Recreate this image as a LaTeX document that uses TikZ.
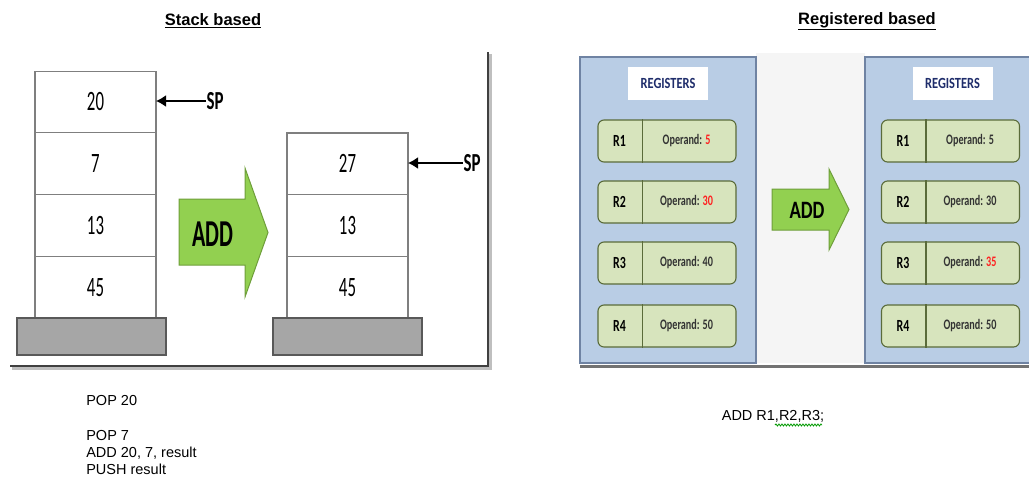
\documentclass[tikz,border=0pt]{standalone}
\usepackage{fontspec}
\setmainfont{Liberation Sans}
\newfontfamily\calib{Carlito}
\usepackage{graphicx}
\usetikzlibrary{arrows.meta, positioning, decorations.pathmorphing}

\definecolor{stackline}{HTML}{7F7F7F}
\definecolor{basegray}{HTML}{A6A6A6}
\definecolor{addgreen}{HTML}{92D050}
\definecolor{addedge}{HTML}{6E9E3A}
\definecolor{panelblue}{HTML}{B9CDE5}
\definecolor{paneledge}{HTML}{6F83A3}
\definecolor{regfill}{HTML}{D7E4BD}
\definecolor{regedge}{HTML}{5A6B3A}
\definecolor{regtext}{HTML}{1F2D6B}
\definecolor{hot}{HTML}{FF2020}

\newcommand{\cond}[2][0.6]{\scalebox{#1}[1]{#2}}

\begin{document}
\begin{tikzpicture}[
            x = 1pt, y = -1pt, % pixel grid, y grows down
            > = {Latex[length = 10pt, width = 12pt]}, % arrow head style
            node distance = 0pt, % stack cells touch
            semithick % line style
        ]

        \tikzstyle{stackcell}=[
            draw = stackline,
            line width = 1.2pt,
            fill = white,
            minimum width = 121pt,
            minimum height = 61.75pt,
            inner sep = 0pt,
            outer sep = 0pt,
            font = \calib\fontsize{28}{28}\selectfont
        ]
        \tikzstyle{stackbase}=[draw = black!65, line width = 1.2pt, fill = basegray,
            minimum width = 149pt, minimum height = 37pt, inner sep = 0pt]
        \tikzstyle{splabel}=[inner sep = 0pt, font = \calib\bfseries\fontsize{26}{26}\selectfont]
        \tikzstyle{sparrow}=[->, line width = 1.6pt, black]
        \tikzstyle{addarrow}=[draw = addedge, fill = addgreen, line width = 1pt, line join = miter]
        \tikzstyle{addtext}=[inner sep = 0pt, font = \calib\bfseries\fontsize{38}{38}\selectfont]
        \tikzstyle{panel}=[draw = paneledge, fill = panelblue, line width = 1.4pt,
            minimum width = 176pt, minimum height = 306pt]
        \tikzstyle{regtitle}=[fill = white, minimum width = 80pt, minimum height = 33pt,
            text = regtext, font = \calib\bfseries\fontsize{15.5}{15.5}\selectfont]
        \tikzstyle{regrow}=[draw = regedge, fill = regfill, line width = 1.1pt, rounded corners = 6pt,
            minimum width = 138pt, minimum height = 42pt]
        \tikzstyle{regname}=[inner sep = 0pt, font = \calib\bfseries\fontsize{17}{17}\selectfont]
        \tikzstyle{regval}=[inner sep = 0pt, text = black!80, font = \calib\bfseries\fontsize{14.5}{14.5}\selectfont]
        \tikzstyle{title}=[inner sep = 0pt, font = \bfseries\fontsize{16.5}{16.5}\selectfont]
        \tikzstyle{codetext}=[inner sep = 0pt, align = left, font = \fontsize{14.5}{17.3}\selectfont]

        \useasboundingbox (0,0) rectangle (1029,477);

        % stack based
        \node[title] (stacktitle) at (213,21) {\underline{Stack based}};

        \draw[line width = 3pt, black!25] (490,54) -- (490,368) -- (12,368);
        \draw[line width = 2pt, black!75] (488,52) -- (488,366) -- (10,366);

        \node[stackcell] (a20) at (95.5,102) {\cond{20}};
        \node[stackcell] (a7) [below=of a20] {\cond{7}};
        \node[stackcell] (a13) [below=of a7] {\cond{13}};
        \node[stackcell] (a45) [below=of a13] {\cond{45}};
        \node[stackbase] (abase) at (91.5,336.5) {};

        \node[stackcell] (b27) at (347.5,163.9) {\cond{27}};
        \node[stackcell] (b13) [below=of b27] {\cond{13}};
        \node[stackcell] (b45) [below=of b13] {\cond{45}};
        \node[stackbase] (bbase) at (347.5,336.5) {};

        \node[splabel] (asp) at (215,101) {\cond[0.65]{SP}};
        \node[splabel] (bsp) at (472,163) {\cond[0.65]{SP}};
        \draw[sparrow] (asp.west) -- (a20.east |- asp.west);
        \draw[sparrow] (bsp.west) -- (b27.east |- bsp.west);

        \draw[addarrow] (179,199) -- (245,199) -- (245,168) -- (268,232.5)
            -- (245,297) -- (245,265) -- (179,265) -- cycle;
        \node[addtext] (addstack) at (213,234) {\cond[0.58]{ADD}};

        \node[codetext, anchor = north west] (stackcode) at (86,395)
            {POP 20\\[17.3pt]POP 7\\ADD 20, 7, result\\PUSH result};

        % register based
        \node[title] (regtitle) at (867,21) {\underline{Registered based}};

        \fill[black!4] (756,53) rectangle (865,363);
        \draw[line width = 3pt, black!55] (580,366) -- (1029,366);
        \node[panel] (lpanel) at (668,210) {};
        \node[panel] (rpanel) at (953,210) {};
        \node[regtitle] (ltitle) at (668,83.5) {\cond[0.8]{REGISTERS}};
        \node[regtitle] (rtitle) at (952.5,83.5) {\cond[0.8]{REGISTERS}};

        \foreach \s/\cx/\n/\cy/\val in {
                l/667/1/141/{\textcolor{hot}{5}}, l/667/2/202/{\textcolor{hot}{30}},
                l/667/3/263/{40}, l/667/4/326/{50},
                r/950.5/1/141/{5}, r/950.5/2/202/{30},
                r/950.5/3/263/{\textcolor{hot}{35}}, r/950.5/4/326/{50}} {
            \node[regrow] (\s\n) at (\cx,\cy) {};
            \node[regname] (\s\n name) at ([xshift = 22pt]\s\n.west) {\cond[0.7]{R\n}};
            \node[regval] (\s\n val) at ([xshift = -50pt]\s\n.east) {\cond[0.7]{Operand: \val}};
            \draw[regedge, line width = 1.1pt] ([xshift = 45pt]\s\n.north west) -- ([xshift = 45pt]\s\n.south west);
        }

        \draw[addarrow] (772,189) -- (829,189) -- (829,169) -- (849,209.5)
            -- (829,250) -- (829,230) -- (772,230) -- cycle;
        \node[addtext, font = \calib\bfseries\fontsize{25}{25}\selectfont] (addreg) at (807,210) {\cond[0.75]{ADD}};

        \node[codetext] (regcode) at (773,416) {ADD R1,R2,R3;};
        \draw[green!60!black, line width = 0.8pt, decorate,
            decoration = {snake, amplitude = 1pt, segment length = 3pt}] (775,425) -- (822,425);

    \end{tikzpicture}
\end{document}
